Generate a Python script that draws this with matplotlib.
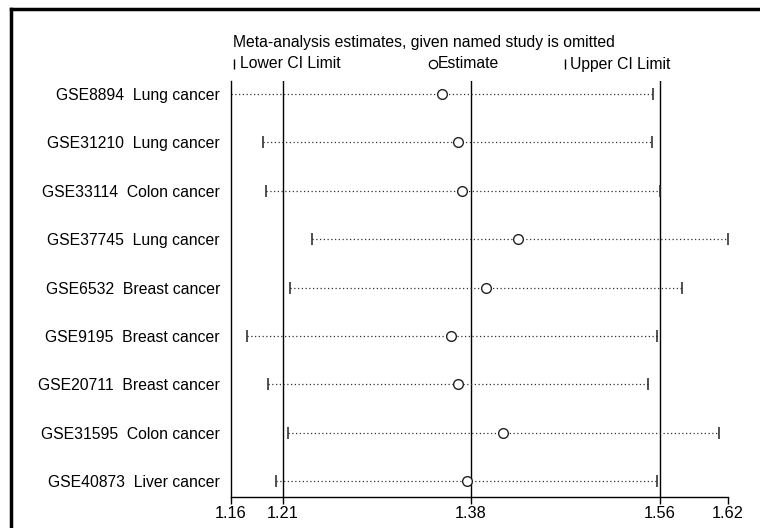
import matplotlib
matplotlib.use("Agg")
import matplotlib.pyplot as plt
from matplotlib.lines import Line2D

plt.rcParams['font.family'] = ['Liberation Sans', 'DejaVu Sans']

# studies, one row each (top to bottom)
studies = ['GSE8894  Lung cancer', 'GSE31210  Lung cancer', 'GSE33114  Colon cancer',
           'GSE37745  Lung cancer', 'GSE6532  Breast cancer', 'GSE9195  Breast cancer',
           'GSE20711  Breast cancer', 'GSE31595  Colon cancer', 'GSE40873  Liver cancer']
estimate = [1.355, 1.370, 1.374, 1.426, 1.396, 1.364, 1.370, 1.412, 1.378]
lower_ci = [1.160, 1.190, 1.192, 1.235, 1.215, 1.175, 1.194, 1.213, 1.202]
upper_ci = [1.551, 1.550, 1.557, 1.620, 1.577, 1.554, 1.546, 1.612, 1.554]

# combined estimate and its CI (vertical reference lines)
overall = [1.208, 1.382, 1.557]
tick_pos = [1.16, 1.208, 1.382, 1.557, 1.62]
tick_lab = ['1.16', '1.21', '1.38', '1.56', '1.62']

fs = 11.3

fig = plt.figure(figsize=(7.6, 5.28), dpi=100)
ax = fig.add_axes([231 / 760, 1 - 497 / 528, 497 / 760, 416 / 528])

rows = list(range(len(studies)))
for y, lo, est, hi in zip(rows, lower_ci, estimate, upper_ci):
    ax.plot([lo, hi], [y, y], color='#333333', lw=0.9, ls=(0, (1, 2)))
    ax.plot([lo, hi], [y, y], ls='none', marker='|', ms=9, mew=1.1, color='#222222')
    ax.plot(est, y, ls='none', marker='o', ms=7, mfc='white', mec='#222222', mew=1.0)

for v in overall:
    ax.axvline(v, color='black', lw=1.0, zorder=0)

ax.set_xlim(1.16, 1.62)
ax.set_ylim(8.33, -0.27)
ax.set_yticks(rows)
ax.set_yticklabels(studies, fontsize=fs)
ax.tick_params(axis='y', length=0, pad=8)
ax.set_xticks(tick_pos)
ax.set_xticklabels(tick_lab, fontsize=11.8)
ax.tick_params(axis='x', length=5, width=1, direction='out', pad=1.5)
for s in ['top', 'right']:
    ax.spines[s].set_visible(False)
for s in ['left', 'bottom']:
    ax.spines[s].set_linewidth(1.0)

# heading and key
fig.text(233 / 760, 1 - 43 / 528, 'Meta-analysis estimates, given named study is omitted',
         fontsize=fs, ha='left', va='center')
key_y = 1 - 64 / 528
fig.add_artist(Line2D([234 / 760], [key_y], marker='|', ms=7, mew=1.0, color='black', ls='none'))
fig.text(240 / 760, key_y, 'Lower CI Limit', fontsize=fs, ha='left', va='center')
fig.add_artist(Line2D([433 / 760], [key_y], marker='o', ms=6, mfc='white', mec='black',
                      mew=0.9, ls='none'))
fig.text(438 / 760, key_y, 'Estimate', fontsize=fs, ha='left', va='center')
fig.add_artist(Line2D([565 / 760], [key_y], marker='|', ms=7, mew=1.0, color='black', ls='none'))
fig.text(570 / 760, key_y, 'Upper CI Limit', fontsize=fs, ha='left', va='center')

# outer frame (top and left edges)
fig.add_artist(Line2D([11 / 760, 1], [1 - 9 / 528, 1 - 9 / 528], color='black', lw=2.5))
fig.add_artist(Line2D([11 / 760, 11 / 760], [0, 1 - 9 / 528], color='black', lw=2.5))

fig.savefig('out.png', dpi=100)
